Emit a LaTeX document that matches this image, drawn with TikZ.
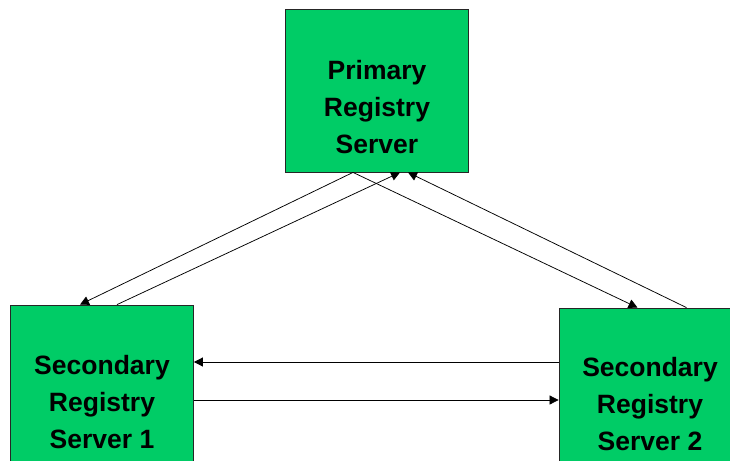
\documentclass[tikz,border=0pt]{standalone}
\usepackage{fontspec}
\setmainfont{Liberation Sans}
\usetikzlibrary{arrows.meta}
\definecolor{regGreen}{RGB}{0,204,102}
\tikzset{
  server/.style={draw=black!85, line width=0.8pt, fill=regGreen, minimum width=183pt, minimum height=163pt, inner sep=0pt},
  srvtext/.style={align=center, inner sep=0pt, font=\fontsize{26.5}{37}\selectfont\bfseries},
  link/.style={-{Triangle[length=9pt,width=9pt]}, line width=0.75pt}
}

\begin{document}
\begin{tikzpicture}[x=1pt,y=-1pt]
        \useasboundingbox (0,0) rectangle (730,460);
        \clip (0,0) rectangle (730,460);
        \node[server] (primary) at (377,90.5) {};
        \node[server] (sec1) at (102,386.5) {};
        \node[server] (sec2) at (650.5,389.5) {};
        \node[srvtext] (primarytext) at (377,107) {Primary\\Registry\\Server};
        \node[srvtext] (sec1text) at (102,402) {Secondary\\Registry\\Server 1};
        \node[srvtext] (sec2text) at (650,404) {Secondary\\Registry\\Server 2};
        \draw[link] ([xshift=-24pt]primary.south) -- ([xshift=-22pt]sec1.north);
        \draw[link] ([xshift=15pt]sec1.north) -- ([xshift=23pt]primary.south);
        \draw[link] ([xshift=-24pt]primary.south) -- ([xshift=-13pt]sec2.north);
        \draw[link] ([xshift=36pt]sec2.north) -- ([xshift=31pt]primary.south);
        \draw[link] ([yshift=27.5pt]sec2.west) -- ([yshift=24.5pt]sec1.east);
        \draw[link] ([yshift=-13.5pt]sec1.east) -- ([yshift=-10.5pt]sec2.west);
    \end{tikzpicture}
\end{document}
